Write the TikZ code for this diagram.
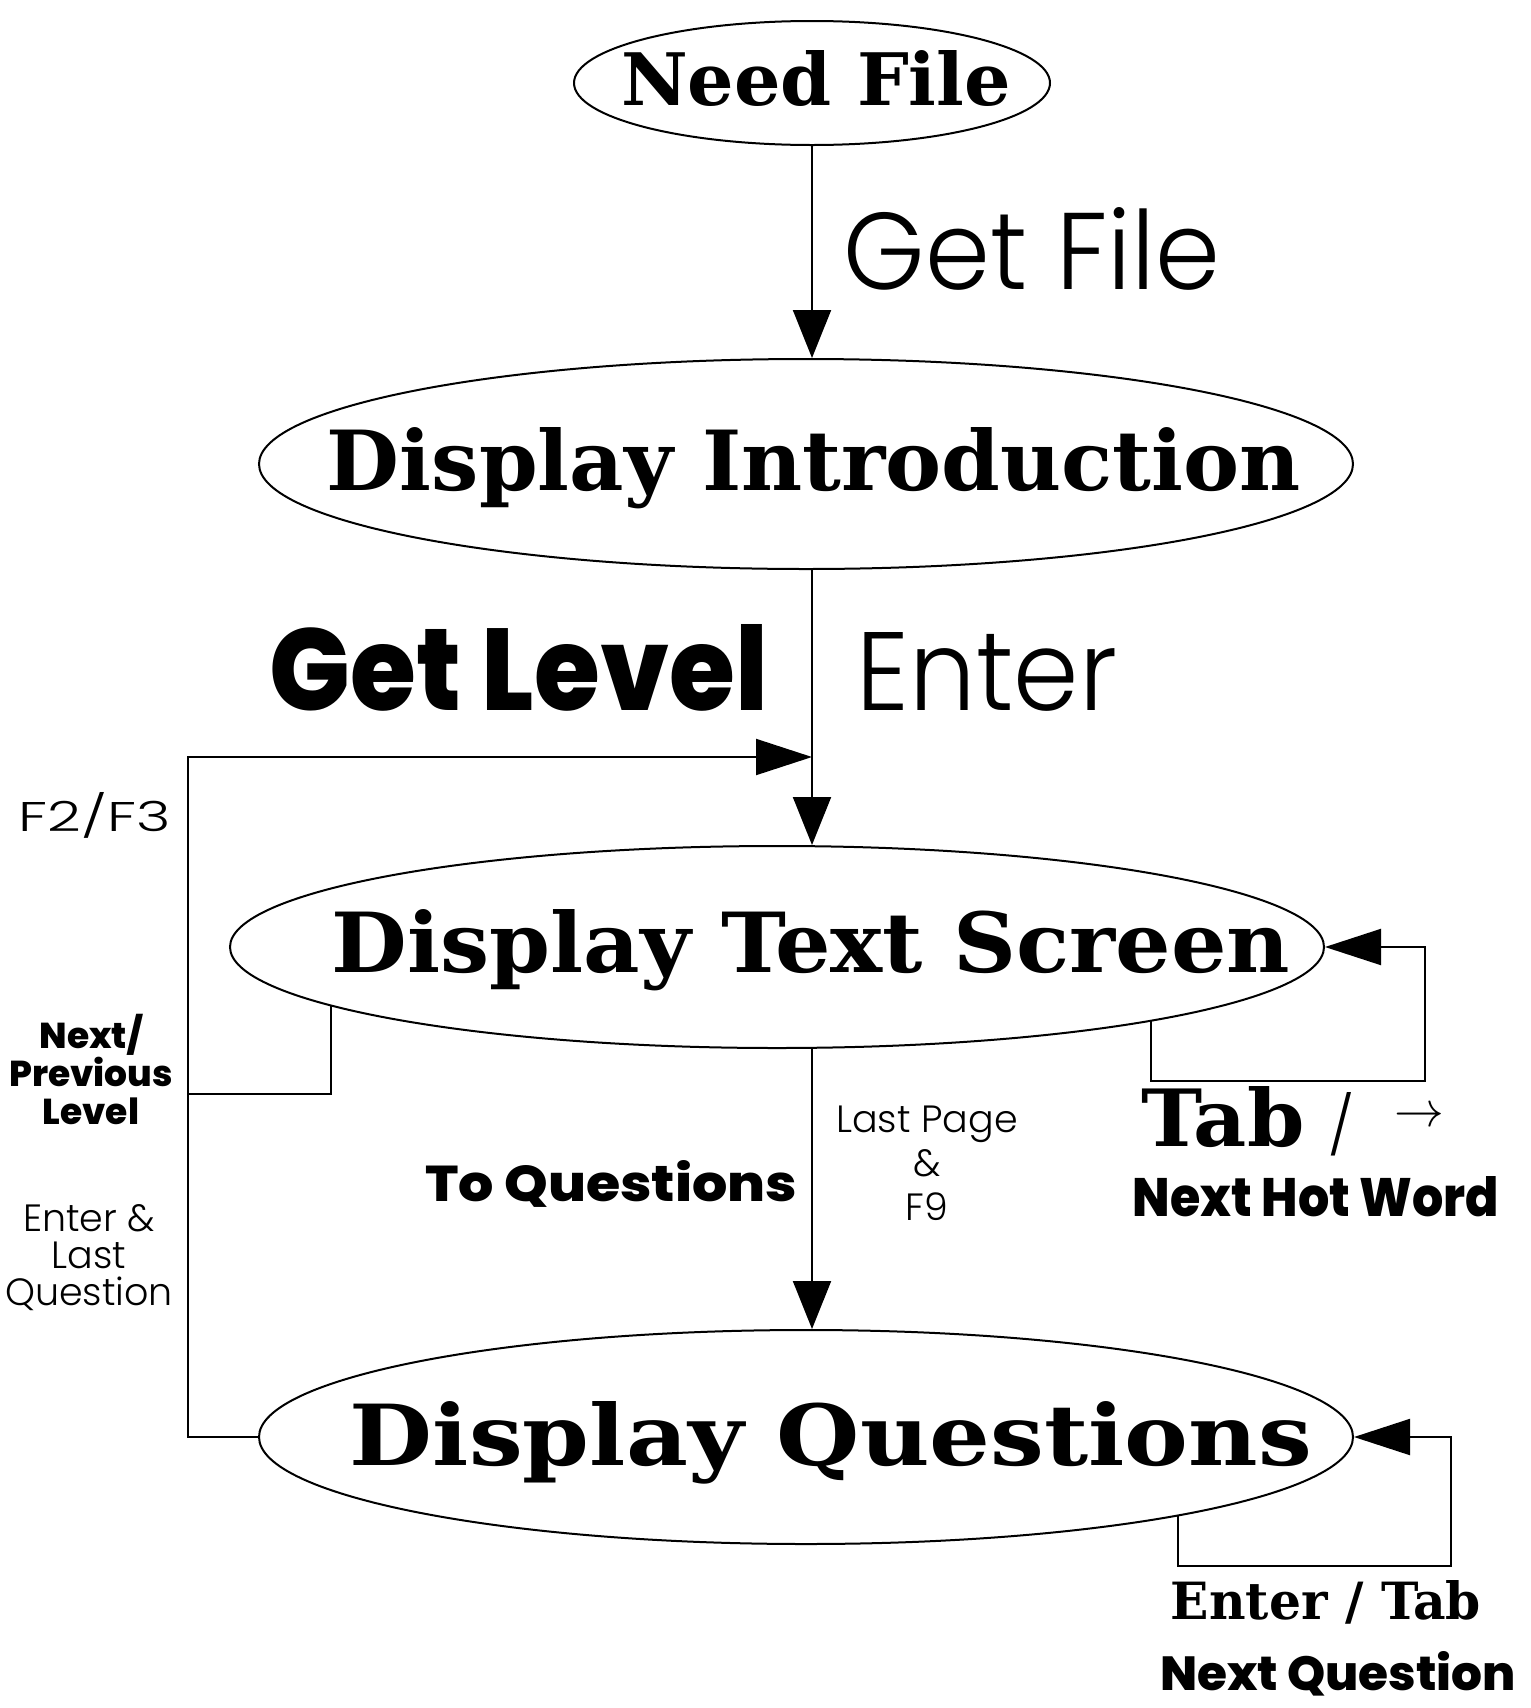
\documentclass[tikz,border=0pt]{standalone}
\usepackage{fontspec}
\usepackage{graphicx}
\usetikzlibrary{shapes.geometric,arrows.meta}
\newfontfamily\serifbf{DejaVu Serif Condensed Bold}
\newfontfamily\thinf{Poppins Light}
\newfontfamily\rndf{Poppins ExtraBold}
\newcommand{\fitwh}[3]{\resizebox{#1}{#2}{#3}}
\begin{document}
\begin{tikzpicture}[x=0.5pt,y=-0.5pt,
  ell/.style={draw, ellipse, line width=1pt, inner sep=0pt},
  conn/.style={line width=1pt},
  tipv/.style={-{Triangle[length=24pt,width=19pt]}},
  tiph/.style={-{Triangle[length=28pt,width=18pt]}},
  lbl/.style={anchor=base, inner sep=0pt},
  mlbl/.style={anchor=center, inner sep=0pt, align=center},
]
\useasboundingbox (0,0) rectangle (1531,1708);

% ellipses
\node[ell, minimum width=238pt, minimum height=62pt] (nf) at (812,83) {};
\node[ell, minimum width=547pt, minimum height=105pt] (di) at (806,464) {};
\node[ell, minimum width=547pt, minimum height=101pt] (ts) at (777,947) {};
\node[ell, minimum width=547pt, minimum height=107pt] (dq) at (806,1437) {};

% ellipse texts
\node[lbl] (nft) at (816,105) {\fitwh{195pt}{27.5pt}{\serifbf Need File}};
\node[lbl] (dit) at (814,490) {\fitwh{487pt}{31.5pt}{\serifbf Display Introduction}};
\node[lbl] (tst) at (811,972) {\fitwh{479pt}{31.5pt}{\serifbf Display Text Screen}};
\node[lbl] (dqt) at (831,1465) {\fitwh{481pt}{32pt}{\serifbf Display Questions}};

% coordinates
\coordinate (mx) at (812,0);
\coordinate (join) at (812,757);
\coordinate (lx) at (188,757);
\coordinate (lj) at (188,1094);
\coordinate (tsl) at (331,1006);
\coordinate (tsr) at (1151,1021);
\coordinate (tsrc) at (1425,1081);
\coordinate (dqr) at (1178,1516);
\coordinate (dqrc) at (1451,1566);

% connectors
\draw[conn,tipv] (nf.south) -- (nf.south |- di.north);
\draw[conn,tipv] (di.south -| mx) -- (ts.north -| mx);
\draw[conn,tipv] (ts.south -| mx) -- (dq.north -| mx);
\draw[conn,tiph] (dq.west) -| (lx) -- (join);
\draw[conn] (tsl) |- (lj);
\draw[conn,tiph] (tsr) |- (tsrc) |- (ts.east);
\draw[conn,tiph] (dqr) |- (dqrc) |- (dq.east);

% labels
\node[lbl] (getfile) at (1032,289) {\fitwh{188pt}{41pt}{\thinf Get File}};
\node[lbl] (getlevel) at (519,710) {\fitwh{249pt}{43pt}{\rndf Get Level}};
\node[lbl] (enter) at (987,710) {\fitwh{130pt}{39pt}{\thinf Enter}};
\node[lbl] (f2f3) at (95,831) {\fitwh{76pt}{19.5pt}{\thinf F2/F3}};
\node[mlbl, font=\rndf\fontsize{18pt}{19pt}\selectfont] (nplevel) at (91,1069) {Next/\\Previous\\Level};
\node[mlbl, font=\thinf\fontsize{19pt}{18.5pt}\selectfont] (elq) at (89,1258) {Enter \&\\Last\\Question};
\node[lbl] (toq) at (611,1201) {\fitwh{186pt}{20.5pt}{\rndf To Questions}};
\node[mlbl, font=\thinf\fontsize{19pt}{22pt}\selectfont] (lpf9) at (927,1163) {Last Page\\\&\\F9};
\node[anchor=base west, inner sep=0pt] (tab) at (1141,1146) {\fitwh{81.5pt}{30pt}{\serifbf Tab}\hspace{12pt}\fitwh{13pt}{27pt}{\thinf /}\hspace{20pt}\raisebox{10pt}{\fontsize{26pt}{26pt}\selectfont$\rightarrow$}};
\node[lbl] (nhw) at (1316,1216) {\fitwh{183pt}{20pt}{\rndf Next Hot Word}};
\node[lbl] (et) at (1326,1619) {\fitwh{155pt}{19.5pt}{\serifbf Enter / Tab}};
\node[lbl] (nq) at (1338,1690) {\fitwh{178pt}{19.5pt}{\rndf Next Question}};
\end{tikzpicture}
\end{document}
